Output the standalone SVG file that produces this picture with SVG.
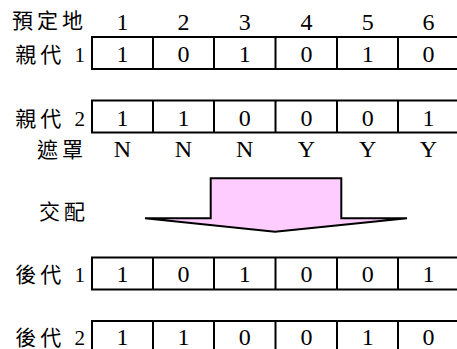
<svg xmlns="http://www.w3.org/2000/svg" width="457" height="349" viewBox="0 0 457 349">
<style>
.t{font-family:"Liberation Serif","Noto Sans CJK TC",serif;font-size:24px;fill:#000;text-anchor:middle}
.l{font-family:"Liberation Serif","Noto Sans CJK TC",serif;font-size:21px;fill:#000;text-anchor:end;letter-spacing:4px}
.b{fill:#fff;stroke:#000;stroke-width:2}
.d{stroke:#000;stroke-width:2}
</style>
<rect width="457" height="349" fill="#fff"/>
<g id="header">
<text class="l" x="87" y="28">預定地</text>
<text class="t" x="122.5" y="30">1</text><text class="t" x="183.5" y="30">2</text><text class="t" x="244.7" y="30">3</text><text class="t" x="306.5" y="30">4</text><text class="t" x="367.7" y="30">5</text><text class="t" x="428.5" y="30">6</text>
</g>
<g id="parent1">
<text class="l" x="89" y="62">親代 1</text>
<rect class="b" x="92" y="37" width="380" height="32"/>
<path class="d" d="M153 37V69M214 37V69M275.5 37V69M337 37V69M398 37V69"/>
<text class="t" x="122.5" y="62">1</text><text class="t" x="183.5" y="62">0</text><text class="t" x="244.7" y="62">1</text><text class="t" x="306.5" y="62">0</text><text class="t" x="367.7" y="62">1</text><text class="t" x="428.5" y="62">0</text>
</g>
<g id="parent2">
<text class="l" x="89" y="126">親代 2</text>
<rect class="b" x="92" y="100.5" width="380" height="32"/>
<path class="d" d="M153 100.5V132.5M214 100.5V132.5M275.5 100.5V132.5M337 100.5V132.5M398 100.5V132.5"/>
<text class="t" x="122.5" y="126">1</text><text class="t" x="183.5" y="126">1</text><text class="t" x="244.7" y="126">0</text><text class="t" x="306.5" y="126">0</text><text class="t" x="367.7" y="126">0</text><text class="t" x="428.5" y="126">1</text>
</g>
<g id="mask">
<text class="l" x="87" y="157">遮罩</text>
<text class="t" x="122.5" y="157">N</text><text class="t" x="183.5" y="157">N</text><text class="t" x="244.7" y="157">N</text><text class="t" x="306.5" y="157">Y</text><text class="t" x="367.7" y="157">Y</text><text class="t" x="428.5" y="157">Y</text>
</g>
<g id="crossover">
<text class="l" x="89" y="219">交配</text>
<path d="M210.7 178.3H341.3V218.3H407L275 231.7L145 218.3H210.7Z" fill="#ffccff" stroke="#000" stroke-width="2" stroke-linejoin="miter"/>
</g>
<g id="child1">
<text class="l" x="89" y="282">後代 1</text>
<rect class="b" x="92" y="257.5" width="380" height="32"/>
<path class="d" d="M153 257.5V289.5M214 257.5V289.5M275.5 257.5V289.5M337 257.5V289.5M398 257.5V289.5"/>
<text class="t" x="122.5" y="282">1</text><text class="t" x="183.5" y="282">0</text><text class="t" x="244.7" y="282">1</text><text class="t" x="306.5" y="282">0</text><text class="t" x="367.7" y="282">0</text><text class="t" x="428.5" y="282">1</text>
</g>
<g id="child2">
<text class="l" x="89" y="345">後代 2</text>
<rect class="b" x="92" y="321" width="380" height="32"/>
<path class="d" d="M153 321V353M214 321V353M275.5 321V353M337 321V353M398 321V353"/>
<text class="t" x="122.5" y="345">1</text><text class="t" x="183.5" y="345">1</text><text class="t" x="244.7" y="345">0</text><text class="t" x="306.5" y="345">0</text><text class="t" x="367.7" y="345">1</text><text class="t" x="428.5" y="345">0</text>
</g>
<g id="connectors"></g>
</svg>
